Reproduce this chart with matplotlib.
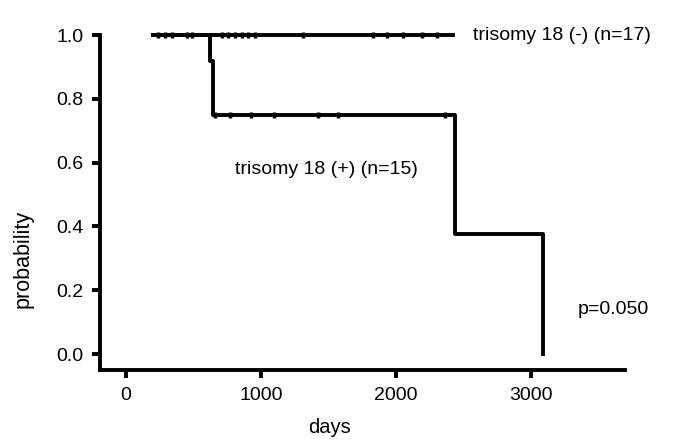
import matplotlib
matplotlib.use('Agg')
import matplotlib.pyplot as plt

plt.rcParams['font.family'] = ['Liberation Sans', 'DejaVu Sans']

# trisomy 18 (-): no events, only censored patients
neg_start = 200
neg_end = 2420
neg_censor = [237, 290, 340, 450, 490, 710, 755, 805, 860, 905, 955,
              1310, 1830, 1930, 2050, 2195, 2300]

# trisomy 18 (+): step curve (time, survival after step)
pos_times = [200, 620, 645, 2435, 3090]
pos_surv = [1.0, 0.92, 0.75, 0.375, 0.0]
pos_censor = [658, 769, 925, 1095, 1420, 1568, 2360]
pos_censor_y = [0.75] * len(pos_censor)

fig = plt.figure(figsize=(6.85, 4.45), dpi=100)
ax = fig.add_axes([100/685, 75/445, 525/685, 335/445])

lw = 2.8
# (+) curve
ax.step(pos_times, pos_surv, where='post', color='black', lw=lw, clip_on=False)
ax.plot(pos_censor, pos_censor_y, ls='none', marker='|', ms=5, mew=2.5,
        color='black', clip_on=False)
# (-) curve
ax.plot([neg_start, neg_end], [1.0, 1.0], color='black', lw=lw, clip_on=False)
ax.plot(neg_censor, [1.0] * len(neg_censor), ls='none', marker='|', ms=5, mew=2.5,
        color='black', clip_on=False)

ax.set_xlim(-193, 3696)
ax.set_ylim(-0.05, 1.0)
ax.set_xticks([0, 1000, 2000, 3000])
ax.set_yticks([0.0, 0.2, 0.4, 0.6, 0.8, 1.0])
ax.set_yticklabels(['0.0', '0.2', '0.4', '0.6', '0.8', '1.0'])
for s in ['top', 'right']:
    ax.spines[s].set_visible(False)
for s in ['left', 'bottom']:
    ax.spines[s].set_linewidth(2.8)
ax.tick_params(direction='out', length=6, width=2.8, labelsize=14)
ax.tick_params(axis='y', pad=6)
ax.tick_params(axis='x', pad=6)

ax.set_xlabel('days', fontsize=14.5)
ax.set_ylabel('probability', fontsize=15.5)
ax.xaxis.set_label_coords(230/525, -48/335)
ax.yaxis.set_label_coords(-66/525, 111/335)

fig.text(473/685, 1 - 35/445, 'trisomy 18 (-) (n=17)', fontsize=14, va='center', ha='left')
fig.text(326/685, 1 - 170/445, 'trisomy 18 (+) (n=15)', fontsize=14, va='center', ha='center')
fig.text(613/685, 1 - 310/445, 'p=0.050', fontsize=14, va='center', ha='center')

fig.savefig('out.png', dpi=100)
